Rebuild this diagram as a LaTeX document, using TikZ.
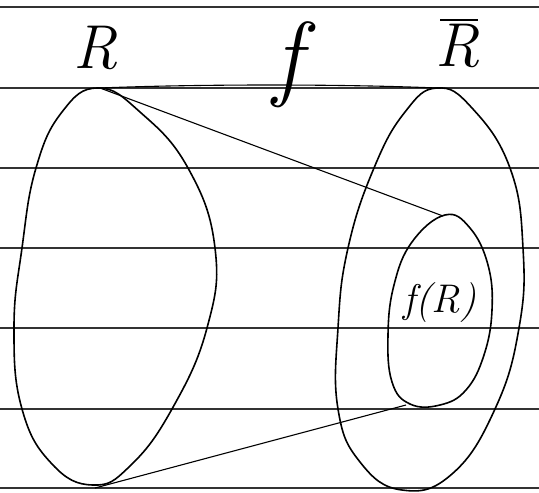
\documentclass[tikz,border=0pt]{standalone}
\begin{document}
\begin{tikzpicture}[x=1pt,y=-1pt,
  rule/.style={line width=1.1pt,black!80},
  ink/.style={line width=1.6pt,black},
  thin ink/.style={line width=1.1pt,black},
  lbl/.style={font=\fontsize{62}{66}\selectfont\itshape,inner sep=0pt},
  big lbl/.style={font=\fontsize{95}{100}\selectfont\itshape,inner sep=0pt},
  small lbl/.style={font=\fontsize{40}{44}\selectfont\itshape,inner sep=0pt}]
\useasboundingbox (0,0) rectangle (539,493);
\fill[white] (0,0) rectangle (539,493);
% ruled paper lines
\foreach \yy in {7,88,168,248,328,409,488}
  \draw[rule] (0,\yy) -- (539,\yy);
% key points
\coordinate (Rtop) at (100,88);
\coordinate (Rbot) at (95,488);
\coordinate (Sbtop) at (437,88);
\coordinate (Ftop) at (443,216);
\coordinate (Fbot) at (406,405);
% set R
\draw[ink] plot[smooth cycle,tension=0.75] coordinates {(98,88) (140,112) (188,168) (215,248) (207,328) (172,409) (130,466) (93,485) (52,464) (22,409) (14,328) (22,248) (36,168) (62,112)};
% set R bar
\draw[ink] plot[smooth cycle,tension=0.75] coordinates {(437,88) (472,108) (510,168) (523,248) (519,328) (495,409) (452,474) (402,490) (360,462) (338,409) (338,328) (348,248) (374,168) (405,112)};
% f(R)
\draw[ink] plot[smooth cycle,tension=0.7] coordinates {(445,215) (470,228) (488,265) (492,310) (484,355) (466,390) (440,405) (410,404) (392,382) (388,335) (394,285) (412,242)};
% connectors
\draw[thin ink] (Rtop) .. controls (200,84) and (340,84) .. (Sbtop);
\draw[thin ink] (Rtop) -- (Ftop);
\draw[thin ink] (Rbot) -- (Fbot);
% labels
\node[lbl,anchor=base] (lR) at (96,68) {R};
\node[big lbl,anchor=base] (lf) at (288,88) {f};
\node[lbl,anchor=base] (lRb) at (458,66) {R};
\draw[thin ink] (440,20) -- (478,20);
\node[small lbl,anchor=base] (lfR) at (440,312) {f(R)};
\end{tikzpicture}
\end{document}
